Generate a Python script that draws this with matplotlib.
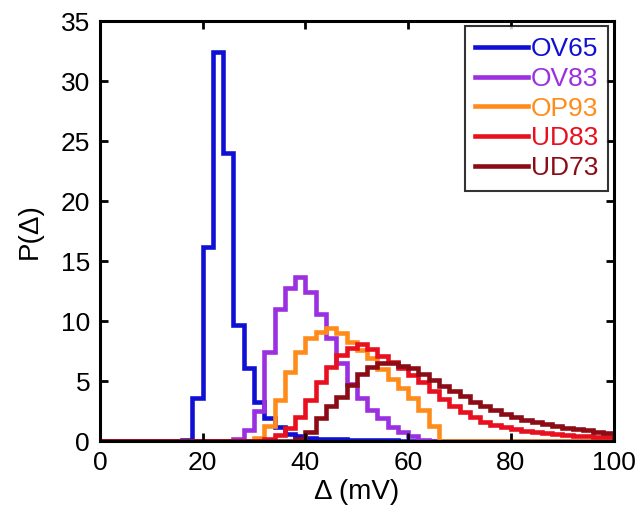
import numpy as np
import matplotlib
matplotlib.use("Agg")
import matplotlib.pyplot as plt
from matplotlib.lines import Line2D

plt.rcParams['font.family'] = ['Liberation Sans', 'DejaVu Sans']

# bin edges (mV), 2 mV bins
edges = np.arange(0, 102, 2)

# each series: first bin left edge + bin heights
ov65_start = 16
ov65 = [0.1, 3.6, 16.2, 32.4, 24.0, 9.7, 6.1, 3.3, 1.9, 1.2, 0.6, 0.4, 0.3,
        0.2, 0.2, 0.2, 0.1, 0.1, 0.1, 0.1, 0.1, 0.05, 0.05]
ov83_start = 26
ov83 = [0.2, 0.9, 2.5, 7.4, 11.0, 12.8, 13.7, 12.4, 10.6, 8.6, 6.5, 4.8,
        3.6, 2.6, 1.9, 1.2, 0.8, 0.4, 0.1]
op93_start = 30
op93 = [0.3, 1.3, 3.4, 5.8, 7.4, 8.6, 9.1, 9.4, 9.0, 8.3, 7.6, 6.9, 6.0,
        5.2, 4.4, 3.6, 2.6, 1.3]
ud83_start = 32
ud83 = [0.2, 0.5, 1.1, 2.0, 3.4, 4.9, 6.2, 7.2, 7.8, 8.1, 7.7, 7.1, 6.6,
        6.1, 5.5, 4.9, 4.2, 3.5, 2.9, 2.4, 2.0, 1.6, 1.35, 1.15, 1.0, 0.85,
        0.75, 0.65, 0.57, 0.5, 0.45, 0.4, 0.36, 0.32]
ud73_start = 38
ud73 = [0.2, 0.8, 1.9, 2.9, 3.7, 4.7, 5.6, 6.2, 6.5, 6.5, 6.3, 6.1, 5.6,
        5.1, 4.6, 4.2, 3.8, 3.3, 2.9, 2.6, 2.3, 2.0, 1.8, 1.6, 1.4, 1.25,
        1.1, 1.0, 0.9, 0.8, 0.7]

labels = ['OV65', 'OV83', 'OP93', 'UD83', 'UD73']
colors = ['#1010d4', '#9a30e0', '#ff8c1a', '#e8101e', '#8c0c16']
starts = [ov65_start, ov83_start, op93_start, ud83_start, ud73_start]
series = [ov65, ov83, op93, ud83, ud73]


def full(start, vals):
    out = np.zeros(len(edges) - 1)
    i = start // 2
    out[i:i + len(vals)] = vals
    return out


fig = plt.figure(figsize=(6.4, 5.16), dpi=100)
ax = fig.add_axes([0.156, 0.145, 0.803, 0.814])

for lab, col, st, vals in zip(labels, colors, starts, series):
    ax.stairs(full(st, vals), edges, color=col, lw=3.3, label=lab)

ax.set_xlim(0, 100)
ax.set_ylim(0, 35)
ax.set_xticks(np.arange(0, 101, 20))
ax.set_yticks(np.arange(0, 36, 5))
ax.tick_params(direction='in', length=6, width=2, labelsize=19,
               top=True, right=True, pad=7)
for s in ax.spines.values():
    s.set_linewidth(2.2)
ax.set_xlabel('Δ (mV)', fontsize=20, labelpad=3)
ax.set_ylabel('P(Δ)', fontsize=20, labelpad=13)

leg_lines = [Line2D([], [], color=c, lw=3.3) for c in colors]
leg = ax.legend(leg_lines, labels, loc='upper right', fontsize=19,
                frameon=True, fancybox=False, edgecolor='black',
                borderaxespad=0.2, handlelength=2.0, handletextpad=0.1,
                labelspacing=0.22, borderpad=0.4)
leg.get_frame().set_linewidth(1.5)
for t, c in zip(leg.get_texts(), colors):
    t.set_color(c)

fig.savefig('out.png', dpi=100)
